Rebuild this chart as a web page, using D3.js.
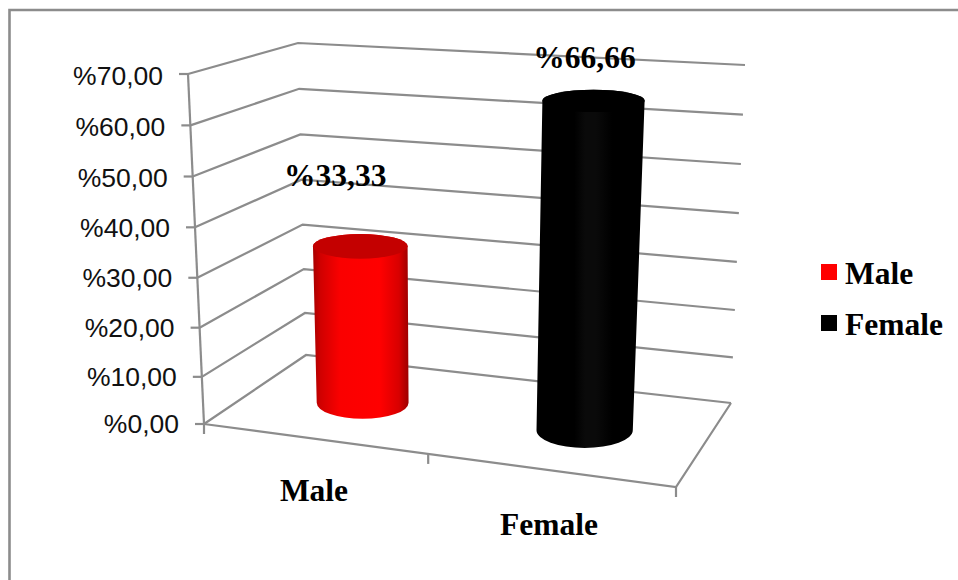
<!DOCTYPE html>
<html>
<head>
<meta charset="utf-8">
<script src="https://cdn.jsdelivr.net/npm/d3@7"></script>
<style>
html,body{margin:0;padding:0;background:#fff;}
svg{display:block;}
</style>
</head>
<body>
<svg id="chart" width="958" height="580"></svg>
<script>
// Chart data
const categories = ["Male", "Female"];
const values = [33.33, 66.66];
const valueLabels = ["%33,33", "%66,66"];
const tickValues = [0, 10, 20, 30, 40, 50, 60, 70];
const tickLabels = ["%0,00", "%10,00", "%20,00", "%30,00", "%40,00", "%50,00", "%60,00", "%70,00"];

const svg = d3.select("#chart");
const gridColor = "#8c8c8c";
const serif = "'Liberation Serif','Times New Roman',serif";
const sans = "'Liberation Sans',Arial,sans-serif";

// Colours per series: side shading stops and the cap fill
const barStyles = [
  { cap: "#c40000", stops: [[0, "#a80000"], [0.08, "#d00000"], [0.28, "#fa0000"], [0.7, "#ff0000"], [0.9, "#d80000"], [1, "#9c0000"]], swatch: "#ff0000" },
  { cap: "#000000", stops: [[0, "#000000"], [0.35, "#000000"], [0.45, "#0a0a0a"], [0.55, "#0a0a0a"], [0.7, "#000000"], [1, "#000000"]], swatch: "#000000" }
];

// Height along the vertical edges, slightly compressed at the far end of the perspective
const heightFraction = d3.scalePow().exponent(1.03).domain([0, 70]).range([0, 1]);

// The four vertical edges of the plot box, as floor point and top point
const box = {
  frontLeft:  { floor: [204, 424], top: [188, 74] },
  backLeft:   { floor: [306, 355], top: [298, 43] },
  backRight:  { floor: [731, 403], top: [745, 65] },
  frontRight: { floor: [676, 487], top: [696, 121] }
};

// Maps (u along the categories, d into the depth, v value) to the page
function project(u, d, v) {
  const h = heightFraction(v);
  const edge = e => d3.interpolateArray(e.floor, e.top)(h);
  const left = d3.interpolateArray(edge(box.frontLeft), edge(box.backLeft))(d);
  const right = d3.interpolateArray(edge(box.frontRight), edge(box.backRight))(d);
  return d3.interpolateArray(left, right)(u);
}

const categoryPos = d3.scaleLinear().domain([0, 1]).range([0.24, 0.735]);
const halfWidth = u => 0.1 + 0.01 * u;
const depthRadius = 0.22;

const line = d3.line();
const grid = svg.append("g").attr("fill", "none").attr("stroke", gridColor).attr("stroke-width", 2.2);

// Chart frame: only the top and left edges fall inside the page
svg.append("path").attr("d", line([[9.5, 580], [9.5, 10], [958, 10]]))
  .attr("fill", "none").attr("stroke", gridColor).attr("stroke-width", 2.6);

// Side and back wall grid lines
tickValues.forEach(v => {
  grid.append("path").attr("d", line([project(0, 0, v), project(0, 1, v), project(1, 1, v)]));
});

// Floor outline
grid.append("path").attr("d", line([project(0, 0, 0), project(1, 0, 0), project(1, 1, 0)]));

// Value axis line with outward ticks
grid.append("path").attr("d", line([project(0, 0, 0), project(0, 0, 70)]));
tickValues.forEach(v => {
  const [x, y] = project(0, 0, v);
  grid.append("path").attr("d", line([[x - 9, y], [x, y]]));
});

// Category tick marks on the front edge
[0, 0.475, 1].forEach(u => {
  const [x, y] = project(u, 0, 0);
  grid.append("path").attr("d", line([[x, y], [x, y + 10]]));
});

// Tick labels on the value axis
svg.append("g").selectAll("text").data(tickValues).join("text")
  .attr("x", v => project(0, 0, v)[0] - 25)
  .attr("y", v => project(0, 0, v)[1] + 8.5 + v / 70 * 2.5)
  .attr("text-anchor", "end")
  .attr("font-family", sans).attr("font-size", 26.5).attr("fill", "#111")
  .text((v, i) => tickLabels[i]);

// Shading for the cylinder sides
const defs = svg.append("defs");
barStyles.forEach((style, i) => {
  const g = defs.append("linearGradient").attr("id", "side" + i);
  style.stops.forEach(s => g.append("stop").attr("offset", s[0]).attr("stop-color", s[1]));
});

// Cylinders, drawn from their values
const bars = svg.append("g");
values.forEach((value, i) => {
  const u = categoryPos(i);
  const w = halfWidth(u);
  const disc = v => {
    const c = project(u, 0.5, v);
    const rx = (project(u + w, 0.5, v)[0] - project(u - w, 0.5, v)[0]) / 2;
    const ry = (project(u, 0.5 - depthRadius, v)[1] - project(u, 0.5 + depthRadius, v)[1]) / 2;
    return { x: c[0], y: c[1], rx, ry };
  };
  const base = disc(0), top = disc(value);
  bars.append("path")
    .attr("d", `M${top.x - top.rx},${top.y} L${base.x - base.rx},${base.y}
      A${base.rx},${base.ry} 0 0 0 ${base.x + base.rx},${base.y}
      L${top.x + top.rx},${top.y}
      A${top.rx},${top.ry} 0 0 0 ${top.x - top.rx},${top.y} Z`)
    .attr("fill", `url(#side${i})`);
  bars.append("ellipse")
    .attr("cx", top.x).attr("cy", top.y).attr("rx", top.rx).attr("ry", top.ry)
    .attr("fill", barStyles[i].cap);
});

// Value labels above the cylinders
const labelOffsets = [[-25, -60.5], [-9, -32.5]];
svg.append("g").selectAll("text").data(values).join("text")
  .attr("x", (v, i) => project(categoryPos(i), 0.5, v)[0] + labelOffsets[i][0])
  .attr("y", (v, i) => project(categoryPos(i), 0.5, v)[1] + labelOffsets[i][1])
  .attr("text-anchor", "middle")
  .attr("font-family", serif).attr("font-weight", "bold").attr("font-size", 31.5).attr("fill", "#000")
  .text((v, i) => valueLabels[i]);

// Category labels under the floor
const categoryX = d3.scalePoint().domain(categories).range([314, 549]);
const categoryY = d3.scalePoint().domain(categories).range([501, 535]);
svg.append("g").selectAll("text").data(categories).join("text")
  .attr("x", d => categoryX(d)).attr("y", d => categoryY(d))
  .attr("text-anchor", "middle")
  .attr("font-family", serif).attr("font-weight", "bold").attr("font-size", 31.5).attr("fill", "#000")
  .text(d => d);

// Legend
const legendY = d3.scalePoint().domain(categories).range([264, 315]);
const legend = svg.append("g").selectAll("g").data(categories).join("g")
  .attr("transform", d => `translate(821,${legendY(d)})`);
legend.append("rect").attr("width", 16).attr("height", 16)
  .attr("fill", (d, i) => barStyles[i].swatch);
legend.append("text").attr("x", 24).attr("y", 19.5)
  .attr("font-family", serif).attr("font-weight", "bold").attr("font-size", 31.5).attr("fill", "#000")
  .text(d => d);
</script>
</body>
</html>
